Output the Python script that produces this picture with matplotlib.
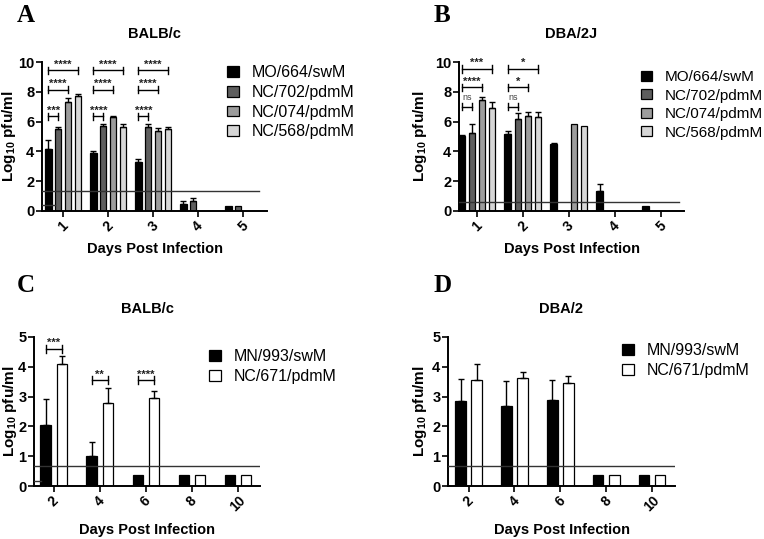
import numpy as np
import matplotlib
matplotlib.use('Agg')
import matplotlib.pyplot as plt

plt.rcParams['font.family'] = ['Liberation Sans', 'DejaVu Sans']
plt.rcParams['mathtext.fontset'] = 'custom'
plt.rcParams['mathtext.bf'] = 'Liberation Sans:bold'
plt.rcParams['mathtext.rm'] = 'Liberation Sans'

nan = np.nan

# ---- panels A / B: days 1-5, four viruses ----
days_ab = ['1', '2', '3', '4', '5']
viruses_ab = ['MO/664/swM', 'NC/702/pdmM', 'NC/074/pdmM', 'NC/568/pdmM']
colors_ab = ['#000000', '#5e5e5e', '#9c9c9c', '#d6d6d6']

balbc_mean = [
    [4.14, 3.87, 3.29, 0.49, 0.36],   # MO/664/swM
    [5.50, 5.70, 5.64, 0.65, 0.36],   # NC/702/pdmM
    [7.31, 6.29, 5.35, nan, nan],     # NC/074/pdmM
    [7.70, 5.64, 5.48, nan, nan],     # NC/568/pdmM
]
balbc_err = [
    [0.63, 0.18, 0.22, 0.20, 0.0],
    [0.14, 0.14, 0.20, 0.20, 0.0],
    [0.25, 0.06, 0.20, nan, nan],
    [0.17, 0.20, 0.18, nan, nan],
]
dba2j_mean = [
    [5.03, 5.17, 4.47, 1.34, 0.36],
    [5.23, 6.20, nan, nan, nan],
    [7.43, 6.38, 5.84, nan, nan],
    [6.94, 6.31, 5.70, nan, nan],
]
dba2j_err = [
    [0.07, 0.18, 0.12, 0.47, 0.0],
    [0.63, 0.35, nan, nan, nan],
    [0.24, 0.24, 0.0, nan, nan],
    [0.35, 0.31, 0.0, nan, nan],
]
lod_a = 1.34
lod_b = 0.62

# ---- panels C / D: days 2-10, two viruses ----
days_cd = ['2', '4', '6', '8', '10']
viruses_cd = ['MN/993/swM', 'NC/671/pdmM']
colors_cd = ['#000000', '#ffffff']

balbc2_mean = [
    [2.04, 1.02, 0.37, 0.37, 0.37],
    [4.11, 2.80, 2.95, 0.37, 0.37],
]
balbc2_err = [
    [0.87, 0.44, 0.0, 0.0, 0.0],
    [0.26, 0.50, 0.25, 0.0, 0.0],
]
dba2_mean = [
    [2.85, 2.68, 2.89, 0.37, 0.37],
    [3.56, 3.64, 3.46, 0.37, 0.37],
]
dba2_err = [
    [0.75, 0.83, 0.67, 0.0, 0.0],
    [0.53, 0.18, 0.24, 0.0, 0.0],
]
lod_c = 0.66
lod_d = 0.66

# significance brackets: (group, from bar, to bar, height, label)
sig_a = [(0, 0, 1, 6.35, '***'), (0, 0, 2, 8.14, '****'), (0, 0, 3, 9.44, '****'),
         (1, 0, 1, 6.35, '****'), (1, 0, 2, 8.14, '****'), (1, 0, 3, 9.44, '****'),
         (2, 0, 1, 6.35, '****'), (2, 0, 2, 8.14, '****'), (2, 0, 3, 9.44, '****')]
sig_b = [(0, 0, 1, 7.0, 'ns'), (0, 0, 2, 8.3, '****'), (0, 0, 3, 9.53, '***'),
         (1, 0, 1, 7.0, 'ns'), (1, 0, 2, 8.3, '*'), (1, 0, 3, 9.53, '*')]
sig_c = [(0, 0, 1, 4.6, '***'), (1, 0, 1, 3.55, '**'), (2, 0, 1, 3.55, '****')]

W, H = 764, 539
fig = plt.figure(figsize=(7.64, 5.39), dpi=100)


def draw_panel(rect, days, means, errs, colors, labels, width, pitch, ymax, lod,
               lod_end, xlim, title, letter, letter_xy, sigs, leg_xy, cap, ylab_px,
               leg_fs=11.5):
    ax = fig.add_axes(rect)
    x = np.arange(len(days))
    n = len(means)
    offs = (np.arange(n) - (n - 1) / 2) * pitch
    for i in range(n):
        m = np.array(means[i], dtype=float)
        e = np.array(errs[i], dtype=float)
        ax.bar(x + offs[i], m, width, color=colors[i], edgecolor='black',
               linewidth=0.9, label=labels[i], zorder=2)
        ok = ~np.isnan(m) & (np.nan_to_num(e) > 0)
        ax.errorbar((x + offs[i])[ok], m[ok], yerr=[np.zeros(ok.sum()), e[ok]],
                    fmt='none', ecolor='black', elinewidth=1.0, capsize=cap,
                    capthick=1.0, zorder=3)
    ax.plot([xlim[0], lod_end], [lod, lod], color='#333333', lw=1.0, zorder=4)
    for g, a, b, h, s in sigs:
        x0, x1 = g + offs[a], g + offs[b]
        d = ymax * 0.025
        ax.plot([x0, x1], [h, h], color='black', lw=1.0)
        ax.plot([x0, x0], [h - d, h + d], color='black', lw=1.0)
        ax.plot([x1, x1], [h - d, h + d], color='black', lw=1.0)
        if s == 'ns':
            ax.text((x0 + x1) / 2, h + ymax * 0.03, s, ha='center', va='bottom',
                    fontsize=6.5, color='#444444')
        else:
            ax.text((x0 + x1) / 2, h + ymax * 0.005, s, ha='center', va='bottom',
                    fontsize=8, fontweight='bold', color='#222222')
    ax.set_xlim(*xlim)
    ax.set_ylim(0, ymax)
    ax.set_xticks(x)
    ax.set_xticklabels(days, rotation=45, ha='center', fontsize=10, fontweight='bold')
    step = 2 if ymax == 10 else 1
    ax.set_yticks(np.arange(0, ymax + 0.1, step))
    ax.set_yticklabels([str(int(v)) for v in np.arange(0, ymax + 0.1, step)],
                       fontsize=10.5, fontweight='bold')
    for sp in ['top', 'right']:
        ax.spines[sp].set_visible(False)
    for sp in ['left', 'bottom']:
        ax.spines[sp].set_linewidth(1.4)
    ax.tick_params(axis='both', width=1.2, length=4, pad=1.5)
    ax.set_xlabel('Days Post Infection', fontsize=10.5, fontweight='bold', labelpad=6)
    ax.set_ylabel(r'Log$_{\mathbf{10}}$ pfu/ml', fontsize=11, fontweight='bold')
    # y label: its right edge sits at a fixed pixel column
    ax.yaxis.set_label_coords((ylab_px - rect[0] * W) / (rect[2] * W), 0.5)
    ax.set_title(title, fontsize=10.5, fontweight='bold', pad=17)
    fig.text(letter_xy[0], letter_xy[1], letter, family='Liberation Serif',
             fontsize=18, fontweight='bold', ha='left', va='top')
    ax.legend(loc='upper left', bbox_to_anchor=leg_xy, bbox_transform=fig.transFigure,
              frameon=False, fontsize=leg_fs, handlelength=0.75, handleheight=0.65,
              handletextpad=0.8, labelspacing=0.3, borderpad=0, borderaxespad=0)
    return ax


axa = draw_panel([42 / W, 1 - 211 / H, 225 / W, 149 / H], days_ab, balbc_mean, balbc_err,
                 colors_ab, viruses_ab, 0.145, 0.22, 10, lod_a, 4.35, (-0.47, 4.53),
                 'BALB/c', 'A', (17 / W, 1 - 4 / H), sig_a, (227 / W, 1 - 65 / H), 2, 18)
draw_panel([459 / W, 1 - 211 / H, 225 / W, 149 / H], days_ab, dba2j_mean, dba2j_err,
           colors_ab, viruses_ab, 0.145, 0.22, 10, lod_b, 4.4, (-0.39, 4.5),
           'DBA/2J', 'B', (434 / W, 1 - 4 / H), sig_b, (641 / W, 1 - 70 / H), 2, 429, 11)
axc = draw_panel([34 / W, 1 - 486 / H, 226 / W, 149 / H], days_cd, balbc2_mean, balbc2_err,
                 colors_cd, viruses_cd, 0.23, 0.35, 5, lod_c, 4.48, (-0.43, 4.48),
                 'BALB/c', 'C', (17 / W, 1 - 274 / H), sig_c, (209 / W, 1 - 349 / H), 2.5, 19)
draw_panel([448 / W, 1 - 486 / H, 227 / W, 149 / H], days_cd, dba2_mean, dba2_err,
           colors_cd, viruses_cd, 0.23, 0.35, 5, lod_d, 4.5, (-0.45, 4.5),
           'DBA/2', 'D', (434 / W, 1 - 274 / H), [], (622 / W, 1 - 343 / H), 2.5, 429)

# short baseline stubs near the y axis
axa.plot([-0.47, -0.18], [0.42, 0.42], color='#333333', lw=1.0, zorder=4)
axc.plot([-0.43, -0.27], [0.18, 0.18], color='#333333', lw=1.0, zorder=4)

fig.savefig('out.png', dpi=100)
